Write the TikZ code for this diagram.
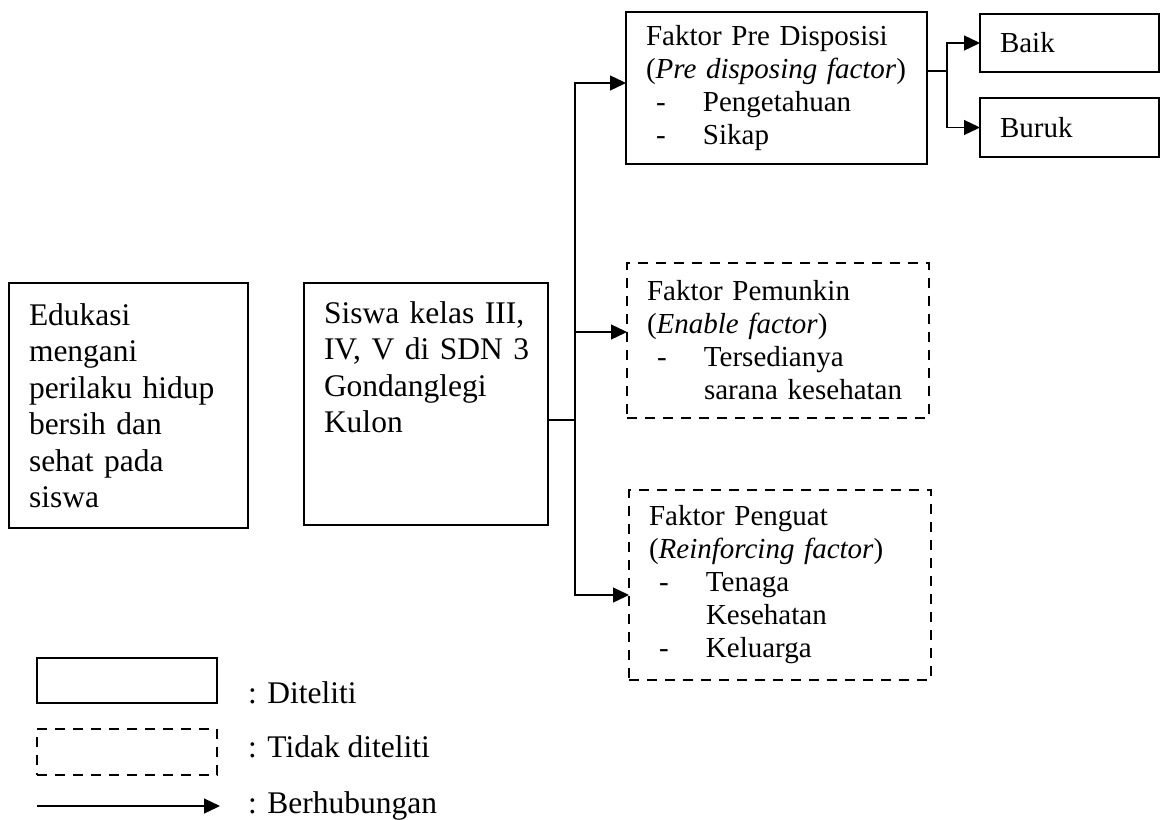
\documentclass[tikz,border=0pt]{standalone}
\usepackage{fontspec}
\setmainfont{Liberation Serif}
\usetikzlibrary{arrows.meta,
                calc,
                positioning}
\newcommand{\dashitem}[1]{\makebox[57pt][l]{\hspace*{10pt}-}#1}
\newcommand{\dashcont}[1]{\hspace*{57pt}#1}

\begin{document}
\begin{tikzpicture}[
			x=1pt, y=-1pt,
			box/.style = {draw, line width=1.8pt, outer sep=0pt, anchor=north west,
				inner xsep=20pt, align=left},
			dashbox/.style = {box, dash pattern=on 10pt off 8pt},
			bigfont/.style = {font=\fontsize{31.5}{36.5}\selectfont},
			smallfont/.style = {font=\fontsize{29}{33}\selectfont},
			link/.style = {line width=1.3pt},
			tip/.style = {-{Triangle[length=16pt, width=15pt]}},
			]
			\useasboundingbox (0,0) rectangle (1161,819);
			\node[box, bigfont, text width=199pt, minimum height=245pt] (edu) at (9,283)
				{Edukasi\\ mengani\\ perilaku hidup\\ bersih dan\\ sehat pada\\ siswa};
			\node[box, bigfont, text width=204pt, inner ysep=18.5pt, text depth=183.5pt] (siswa) at (304,283)
				{\mbox{Siswa kelas III,}\\ \mbox{IV, V di SDN 3}\\ Gondanglegi\\ Kulon};
			\node[box, smallfont, text width=261pt, minimum height=152pt] (pre) at (626,12)
				{Faktor Pre Disposisi\\ (\textit{Pre disposing factor})\\ \dashitem{Pengetahuan}\\ \dashitem{Sikap}};
			\node[dashbox, smallfont, text width=262pt, minimum height=155pt] (enable) at (627,263)
				{Faktor Pemunkin\\ (\textit{Enable factor})\\ \dashitem{Tersedianya}\\ \dashcont{sarana kesehatan}};
			\node[dashbox, smallfont, text width=262pt, minimum height=190pt] (reinf) at (629,490)
				{Faktor Penguat\\ (\textit{Reinforcing factor})\\ \dashitem{Tenaga}\\ \dashcont{Kesehatan}\\ \dashitem{Keluarga}};
			\node[box, smallfont, text width=139pt, minimum height=58pt] (baik) at (980,14) {Baik};
			\node[box, smallfont, text width=139pt, minimum height=59pt] (buruk) at (980,98) {Buruk};
			% connectors
			\coordinate (hub) at (575,420);
			\coordinate (fork) at (947,71);
			\draw[link] (siswa.east |- hub) -- (hub);
			\draw[link, tip] (hub) |- ([yshift=5pt]pre.west);
			\draw[link, tip] (hub) |- ([yshift=8.5pt]enable.west);
			\draw[link, tip] (hub) |- ([yshift=-10pt]reinf.west);
			\draw[link] (pre.east |- fork) -- (fork);
			\draw[link, tip] (fork) |- (baik.west);
			\draw[link, tip] (fork) |- (buruk.west);
			% legend
			\node[box, inner sep=0pt, minimum width=180pt, minimum height=45pt] (legA) at (37,658) {};
			\node[dashbox, inner sep=0pt, minimum width=180pt, minimum height=46pt] (legB) at (37,729) {};
			\coordinate (legC1) at (37,806);
			\coordinate (legC2) at (220,806);
			\draw[link, tip] (legC1) -- (legC2);
			\node[bigfont, anchor=base west, inner sep=0pt] (legAtxt) at (248,703) {: Diteliti};
			\node[bigfont, anchor=base west, inner sep=0pt] (legBtxt) at (248,757) {: Tidak diteliti};
			\node[bigfont, anchor=base west, inner sep=0pt] (legCtxt) at (248,813) {: Berhubungan};
\end{tikzpicture}
\end{document}
